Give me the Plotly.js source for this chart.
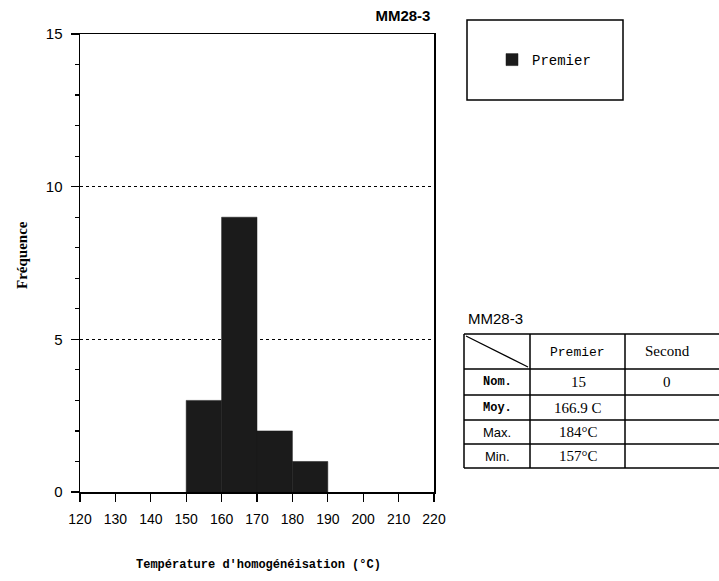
<!DOCTYPE html>
<html>
<head>
<meta charset="utf-8">
<script src="https://cdn.plot.ly/plotly-3.0.1.min.js"></script>
<style>html,body{margin:0;padding:0;background:#fff;}#chart{width:719px;height:581px;}</style>
</head>
<body>
<div id="chart"></div>
<script>
// ---- data ----
const binCenters = [155, 165, 175, 185];
const binCounts = [3, 9, 2, 1];
const binWidth = 10;
const seriesName = "Premier";
const sampleName = "MM28-3";
const xTicks = [120, 130, 140, 150, 160, 170, 180, 190, 200, 210, 220];
const yTicks = [0, 5, 10, 15];
const statLabels = ["Nom.", "Moy.", "Max.", "Min."];
const statPremier = ["15", "166.9 C", "184°C", "157°C"];
const statSecond = ["0", "", "", ""];
const colHeaders = ["Premier", "Second"];

// ---- layout geometry (pixels) ----
const W = 719, H = 581;
const L = 80, R = 434, T = 34, B = 492;
const px = x => (x - L) / (R - L);
const py = y => (B - y) / (B - T);

const shapes = [];
const annotations = [];
function line(x0, y0, x1, y1, w) {
  shapes.push({type: 'line', xref: 'paper', yref: 'paper', x0: px(x0), y0: py(y0), x1: px(x1), y1: py(y1),
    line: {color: '#000', width: w || 1.2}});
}
function text(t, x, y, font, xanchor) {
  annotations.push({xref: 'paper', yref: 'paper', x: px(x), y: py(y), text: t, showarrow: false,
    xanchor: xanchor || 'center', yanchor: 'middle', font: font});
}

// legend box
shapes.push({type: 'rect', xref: 'paper', yref: 'paper', x0: px(467), x1: px(623), y0: py(20), y1: py(100),
  line: {color: '#000', width: 1.5}});

// stats table
const tY = [334, 369, 395, 420, 444, 468];
tY.forEach(y => line(464, y, 719, y, 1.3));
[464, 530, 625].forEach(x => line(x, 334, x, 468, 1.5));
line(466, 336, 528, 367, 1.2); // diagonal in corner cell

const mono = {family: 'Liberation Mono, monospace', size: 13, color: '#000'};
const serif = {family: 'Liberation Serif, serif', size: 15, color: '#000'};
const sans = {family: 'Liberation Sans, Arial, sans-serif', size: 13, color: '#000'};

text(sampleName, 466, 318, {family: 'Liberation Sans, Arial, sans-serif', size: 15, color: '#000'}, 'left');
text(colHeaders[0], (530 + 625) / 2, 352, mono);
text(colHeaders[1], (625 + 719) / 2 - 5, 351, serif);
statLabels.forEach((s, i) => {
  const yc = (tY[i + 1] + tY[i + 2]) / 2;
  const f = i < 2 ? {family: 'Liberation Mono, monospace', size: 12, color: '#000'} : sans;
  text(i < 2 ? '<b>' + s + '</b>' : s, 497, yc, f);
  text(statPremier[i], 578, yc, serif);
  if (statSecond[i]) text(statSecond[i], 667, yc, serif);
});

// axis titles drawn as annotations for exact placement
text('Température d\'homogénéisation (°C)', 258, 565, {family: 'Liberation Mono, monospace', size: 12, color: '#000', weight: 'bold'});
annotations.push({xref: 'paper', yref: 'paper', x: px(22), y: py(255), text: '<b>Fréquence</b>', textangle: -90,
  showarrow: false, xanchor: 'center', yanchor: 'middle', font: {family: 'Liberation Serif, serif', size: 15, color: '#000'}});

const trace = {
  type: 'bar', x: binCenters, y: binCounts, width: binWidth, name: seriesName,
  marker: {color: '#1b1b1b', line: {color: '#1b1b1b', width: 0.5}},
  showlegend: true
};

const layout = {
  width: W, height: H,
  margin: {l: L, r: W - R, t: T, b: H - B, pad: 0},
  paper_bgcolor: '#fff', plot_bgcolor: '#fff',
  title: {text: sampleName, xref: 'paper', x: 0.99, xanchor: 'right', yref: 'container', y: 1 - 16 / H, yanchor: 'middle',
    font: {family: 'Liberation Sans, Arial, sans-serif', size: 15, color: '#000', weight: 'bold'}},
  xaxis: {range: [120, 220], tickvals: xTicks, ticks: 'outside', ticklen: 8, tickwidth: 1.2, tickcolor: '#000',
    ticklabelstandoff: 6,
    showline: true, linecolor: '#000', linewidth: 1.5, mirror: true, showgrid: false, zeroline: false,
    tickfont: {family: 'Liberation Sans, Arial, sans-serif', size: 14, color: '#000'}},
  yaxis: {range: [0, 15], tickvals: yTicks, ticks: 'outside', ticklen: 8, tickwidth: 1.2, tickcolor: '#000',
    ticklabelstandoff: 5,
    showline: true, linecolor: '#000', linewidth: 1.5, mirror: true, zeroline: false,
    showgrid: true, gridcolor: '#000', griddash: 'dot', gridwidth: 1,
    minor: {dtick: 1, ticks: 'outside', ticklen: 4, tickcolor: '#000', showgrid: false},
    tickfont: {family: 'Liberation Sans, Arial, sans-serif', size: 15, color: '#000'}},
  bargap: 0,
  showlegend: true,
  legend: {x: px(492), y: py(60), xanchor: 'left', yanchor: 'middle', bgcolor: 'rgba(0,0,0,0)', borderwidth: 0,
    font: {family: 'Liberation Mono, monospace', size: 14, color: '#000'}},
  shapes: shapes,
  annotations: annotations
};

Plotly.newPlot('chart', [trace], layout, {staticPlot: true, displayModeBar: false});
</script>
</body>
</html>
